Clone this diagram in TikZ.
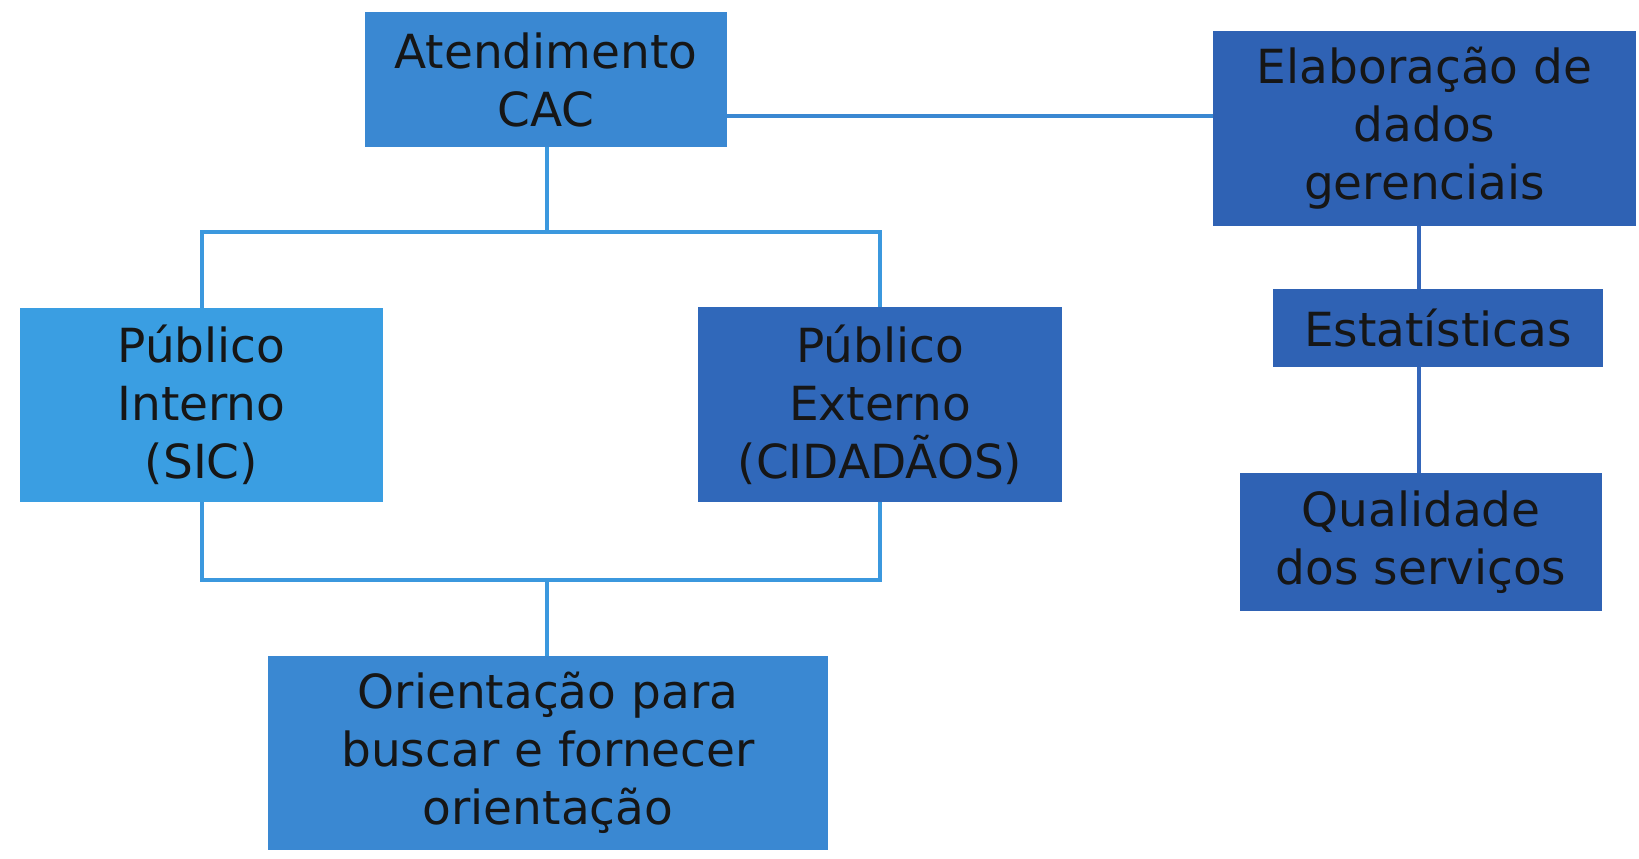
\documentclass[tikz,border=0pt]{standalone}
\usepackage{fontspec}
\setmainfont{DejaVu Sans}
\definecolor{cLight}{HTML}{3A9EE2}
\definecolor{cMid}{HTML}{3A88D2}
\definecolor{cDark}{HTML}{3068BA}
\definecolor{cDarker}{HTML}{2F62B4}
\definecolor{txt}{HTML}{161616}
\definecolor{lnLight}{HTML}{3B98DE}
\definecolor{lnDark}{HTML}{3466BA}
\tikzset{
  box/.style={rectangle, inner sep=0pt, align=center, text=txt,
    font=\fontsize{47}{58}\selectfont},
  conn/.style={line width=4pt, color=lnLight},
  connd/.style={line width=4pt, color=lnDark}
}
\begin{document}
\begin{tikzpicture}[x=1pt,y=-1pt]
\useasboundingbox[fill=white] (0,0) rectangle (1639,859);
\node[box, fill=cMid, minimum width=362pt, minimum height=135pt] (cac) at (546,79.5) {Atendimento\\CAC};
\node[box, fill=cDarker, minimum width=423pt, minimum height=195pt] (elab) at (1424.5,128.5) {Elaboração de\\dados\\gerenciais};
\node[box, fill=cLight, minimum width=363pt, minimum height=194pt] (pin) at (201.5,405) {Público\\Interno\\(SIC)};
\node[box, fill=cDark, minimum width=364pt, minimum height=195pt] (pex) at (880,404.5) {Público\\Externo\\(CIDADÃOS)};
\node[box, fill=cDarker, minimum width=330pt, minimum height=78pt] (est) at (1438,328) {Estatísticas};
\node[box, fill=cDarker, minimum width=362pt, minimum height=138pt] (qual) at (1421,542) {Qualidade\\dos serviços};
\node[box, fill=cMid, minimum width=560pt, minimum height=194pt] (ori) at (548,753) {Orientação para\\buscar e fornecer\\orientação};
\coordinate (top) at (547,232);
\coordinate (bot) at (547,580);
\draw[conn] (cac.south -| top) -- (top);
\draw[conn] (pin.north) |- (top) -| (pex.north);
\draw[conn] (pin.south) |- (bot) -| (pex.south);
\draw[conn] (bot) -- (bot |- ori.north);
\draw[conn, color=cMid] (cac.east |- 0,116) -- (elab.west |- 0,116);
\draw[connd] (elab.south -| 1419,0) -- (est.north -| 1419,0);
\draw[connd] (est.south -| 1419,0) -- (qual.north -| 1419,0);
\end{tikzpicture}
\end{document}
